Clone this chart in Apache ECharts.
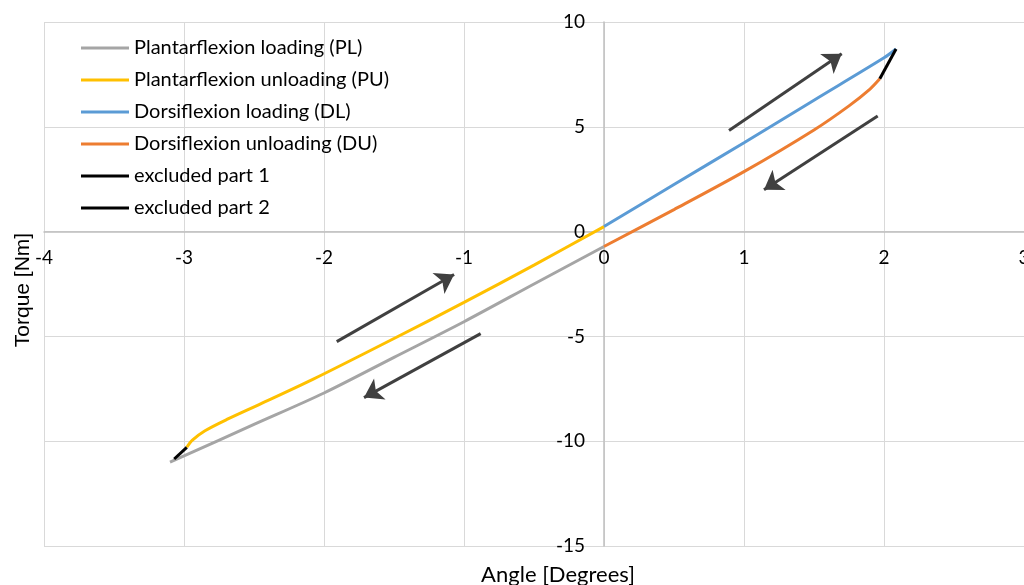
<!DOCTYPE html>
<html>
<head>
<meta charset="utf-8">
<script src="https://cdn.jsdelivr.net/npm/echarts@6/dist/echarts.min.js"></script>
<style>
  html, body { margin: 0; padding: 0; background: #fff; }
  #chart { width: 1024px; height: 585px; }
</style>
</head>
<body>
<div id="chart"></div>
<script>
// curves, [angle, torque]
const plLoading = [[0, -0.71], [-0.5, -2.5], [-1, -4.3], [-1.5, -6.0], [-2, -7.7], [-2.5, -9.2], [-3.1, -11.0]];
const puUnloading = [[-2.98, -10.29], [-2.94, -9.95], [-2.85, -9.5], [-2.69, -8.95], [-2.46, -8.24], [-2.08, -7.05], [-1.5, -5.1], [-1, -3.38], [-0.5, -1.6], [0, 0.24]];
const dlLoading = [[0, 0.24], [0.5, 2.25], [1, 4.24], [1.5, 6.27], [2, 8.29], [2.086, 8.71]];
const duUnloading = [[1.97, 7.29], [1.9, 6.8], [1.75, 6.0], [1.5, 4.85], [1, 2.86], [0.5, 1.05], [0, -0.71]];
const excludedPart1 = [[1.97, 7.29], [2.086, 8.71]];
const excludedPart2 = [[-3.07, -10.85], [-2.98, -10.29]];

// direction arrows: [from, to]
const arrows = [
  [[0.893, 4.82], [1.698, 8.48]],
  [[1.955, 5.52], [1.143, 2.0]],
  [[-1.909, -5.25], [-1.071, -2.05]],
  [[-0.881, -4.87], [-1.714, -7.92]]
];

const seriesNames = ['Plantarflexion loading (PL)', 'Plantarflexion unloading (PU)', 'Dorsiflexion loading (DL)', 'Dorsiflexion unloading (DU)', 'excluded part 1', 'excluded part 2'];
const seriesColors = ['#a5a5a5', '#ffc000', '#5b9bd5', '#ed7d31', '#000000', '#000000'];
const seriesData = [plLoading, puUnloading, dlLoading, duUnloading, excludedPart1, excludedPart2];

const chart = echarts.init(document.getElementById('chart'));
const font = 'Lato';

// grid box, used to put the axes on the zero lines
const gridLeft = 44, gridTop = 22, gridBottom = 39;
const plotW = 1024 - gridLeft, plotH = 585 - gridTop - gridBottom;
const yAxisShift = plotW * 4 / 7;      // x = 0 from the left edge
const xAxisShift = plotH * 15 / 25;    // y = 0 from the bottom edge

const lineSeries = seriesNames.map((name, i) => ({
  name: name,
  type: 'line',
  data: seriesData[i],
  smooth: i < 4 ? 0.3 : false,
  showSymbol: false,
  symbol: 'none',
  color: seriesColors[i],
  lineStyle: { color: seriesColors[i], width: 3 },
  z: i < 4 ? 3 : 4
}));

const option = {
  backgroundColor: '#fff',
  animation: false,
  grid: { left: gridLeft, right: 0, top: gridTop, bottom: gridBottom, containLabel: false, outerBoundsMode: 'none' },
  legend: {
    data: seriesNames,
    orient: 'vertical',
    left: 81,
    top: 37,
    padding: 0,
    itemGap: 10,
    itemWidth: 48,
    itemHeight: 3,
    icon: 'rect',
    textStyle: { fontFamily: font, fontSize: 20, color: '#000', lineHeight: 22 }
  },
  xAxis: {
    type: 'value',
    min: -4,
    max: 3,
    interval: 1,
    offset: -xAxisShift,
    axisLine: { onZero: false, lineStyle: { color: '#bfbfbf', width: 1.5 } },
    axisTick: { show: false },
    axisLabel: { fontFamily: font, fontSize: 19, color: '#000', margin: 17 },
    splitLine: { show: true, lineStyle: { color: '#d9d9d9', width: 1 } }
  },
  yAxis: {
    type: 'value',
    min: -15,
    max: 10,
    interval: 5,
    offset: -yAxisShift,
    axisLine: { onZero: false, lineStyle: { color: '#bfbfbf', width: 1.5 } },
    axisTick: { show: false },
    axisLabel: { fontFamily: font, fontSize: 19, color: '#000', margin: 19 },
    splitLine: { show: true, lineStyle: { color: '#d9d9d9', width: 1 } }
  },
  graphic: [
    {
      type: 'text',
      x: 558,
      y: 575,
      style: { text: 'Angle [Degrees]', font: '22px Lato', fill: '#000', textAlign: 'center', textVerticalAlign: 'middle' }
    },
    {
      type: 'text',
      x: 23,
      y: 290,
      rotation: Math.PI / 2,
      style: { text: 'Torque [Nm]', font: '21px "Liberation Sans"', fill: '#000', textAlign: 'center', textVerticalAlign: 'middle' }
    }
  ],
  series: lineSeries.concat([{
    type: 'lines',
    coordinateSystem: 'cartesian2d',
    symbol: ['none', 'arrow'],
    symbolSize: [14, 18],
    lineStyle: { color: '#404040', width: 3, opacity: 1, curveness: 0 },
    data: arrows.map(a => ({ coords: a })),
    z: 5,
    silent: true
  }])
};

chart.setOption(option);
</script>
</body>
</html>
